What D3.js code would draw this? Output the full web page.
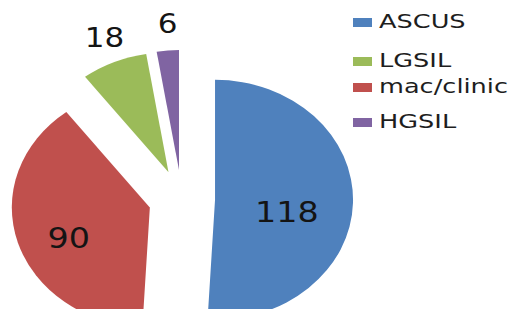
<!DOCTYPE html>
<html>
<head>
<meta charset="utf-8">
<script src="https://cdn.jsdelivr.net/npm/d3@7"></script>
<style>
  html, body { margin: 0; padding: 0; background: #fff; }
  svg { display: block; font-family: 'DejaVu Sans', Verdana, sans-serif; }
</style>
</head>
<body>
<svg id="chart"></svg>
<script>
// Data (pie order, clockwise from 12 o'clock)
const categories = ['ASCUS', 'mac/clinic', 'LGSIL', 'HGSIL'];
const values = [118, 90, 18, 6];
const colors = ['#4f81bd', '#c0504d', '#9bbb59', '#8064a2'];
// legend lists the series in this order
const legendOrder = ['ASCUS', 'LGSIL', 'mac/clinic', 'HGSIL'];

// Setup
const width = 518,
      height = 309;

const svg = d3.select('#chart')
  .attr('width', width)
  .attr('height', height);

const radius = 120,
      stretch = 1.15,   // picture is wider than tall
      explode = 29;

const color = d3.scaleOrdinal().domain(categories).range(colors);

const pie = d3.pie().sort(null).value(d => d.value);
const arc = d3.arc().innerRadius(0).outerRadius(radius);

const slices = pie(categories.map((c, i) => ({ name: c, value: values[i] })));

const g = svg.append('g')
  .attr('transform', `translate(181.7,199) scale(${stretch},1)`);

const mid = d => (d.startAngle + d.endAngle) / 2;
const shift = (d, r) => [r * Math.sin(mid(d)), -r * Math.cos(mid(d))];
const isInside = d => d.endAngle - d.startAngle > 0.5;

// Draw slices
g.selectAll('path')
  .data(slices)
  .enter().append('path')
  .attr('d', arc)
  .attr('transform', d => `translate(${shift(d, explode)})`)
  .attr('fill', d => color(d.data.name));

// Data labels: big slices inside, small ones outside
g.selectAll('text')
  .data(slices)
  .enter().append('text')
  .attr('x', d => {
    const inside = isInside(d);
    return shift(d, explode)[0] + shift(d, inside ? 68 : 146)[0] + (inside ? -5.5 : 2);
  })
  .attr('y', d => {
    const inside = isInside(d);
    return shift(d, explode)[1] + shift(d, inside ? 68 : 146)[1] + (inside ? 10 : -1);
  })
  .attr('dy', '0.36em')
  .attr('text-anchor', 'middle')
  .style('font-size', d => (isInside(d) ? '29px' : '27px'))
  .style('fill', '#141414')
  .text(d => d.data.value);

// Legend
const legendY = [28, 67, 93, 128];

const legend = svg.append('g')
  .selectAll('g')
  .data(legendOrder)
  .enter().append('g')
  .attr('transform', (d, i) => `translate(353,${legendY[i]})`);

legend.append('rect')
  .attr('x', 0)
  .attr('y', -10)
  .attr('width', 19)
  .attr('height', 9)
  .attr('fill', d => color(d));

legend.append('text')
  .attr('transform', 'translate(26,0) scale(1.28,1)')
  .style('font-size', '20px')
  .style('fill', '#1e1e1e')
  .text(d => d);
</script>
</body>
</html>
